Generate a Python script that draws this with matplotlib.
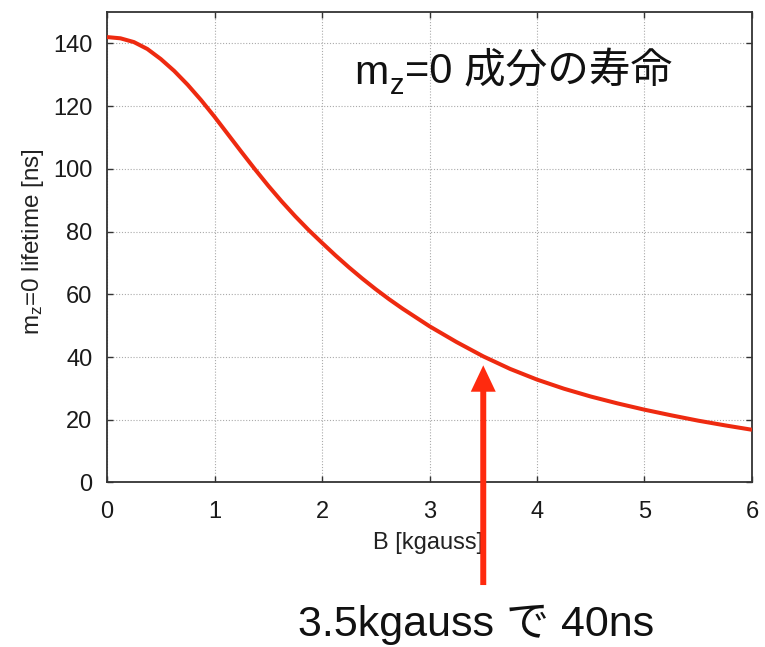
import matplotlib
matplotlib.use("Agg")
import matplotlib.pyplot as plt

plt.rcParams['font.family'] = ['Liberation Sans', 'Noto Sans CJK JP', 'DejaVu Sans']
plt.rcParams['mathtext.default'] = 'regular'

# data
field_kgauss = [0, 0.125, 0.25, 0.375, 0.5, 0.625, 0.75, 0.875,
                1.0, 1.125, 1.25, 1.375, 1.5, 1.625, 1.75, 1.875,
                2.0, 2.125, 2.25, 2.375, 2.5, 2.625, 2.75, 2.875,
                3.0, 3.25, 3.5, 3.75, 4.0, 4.25, 4.5, 4.75,
                5.0, 5.25, 5.5, 5.75, 6.0]
lifetime_ns = [142, 141.6, 140.4, 138.2, 135.0, 131.2, 126.8, 121.9,
               116.6, 111.0, 105.4, 99.9, 94.6, 89.6, 84.9, 80.5,
               76.4, 72.4, 68.6, 65.0, 61.6, 58.4, 55.4, 52.6,
               49.8, 44.8, 40.2, 36.2, 32.8, 29.9, 27.4, 25.2,
               23.2, 21.4, 19.7, 18.2, 16.8]
x_ticks = [0, 1, 2, 3, 4, 5, 6]
y_ticks = [0, 20, 40, 60, 80, 100, 120, 140]
annot_point = (3.5, 40)
annot_text = "3.5kgauss で 40ns"
title_main = "m"
title_sub = "z"
title_rest = "=0 成分の寿命"

curve_color = '#ee2a10'
arrow_color = '#ff2a0e'

fig = plt.figure(figsize=(7.65, 6.47), dpi=100)
ax = fig.add_axes([0.1399, 0.2543, 0.8431, 0.7272])

ax.plot(field_kgauss, lifetime_ns, color=curve_color, lw=2.9,
        solid_capstyle='butt', solid_joinstyle='round', zorder=3)

ax.set_xlim(0, 6)
ax.set_ylim(0, 150)
ax.set_xticks(x_ticks)
ax.set_yticks(y_ticks)
ax.tick_params(direction='in', length=4.3, width=1.0, color='#333333',
               top=True, right=True, labelsize=17, labelcolor='#1a1a1a')
ax.tick_params(axis='x', pad=13)
ax.tick_params(axis='y', pad=10.5)
for s in ax.spines.values():
    s.set_color('#333333')
    s.set_linewidth(1.3)
ax.grid(True, color='#aaaaaa', lw=0.8, linestyle=(0, (1, 1.6)))
ax.set_axisbelow(True)

ax.set_xlabel("B [kgauss]", fontsize=17, color='#222222')
ax.xaxis.set_label_coords(0.498, -0.106)
ax.set_ylabel(r"m$_\mathregular{z}$=0 lifetime [ns]", fontsize=17.5, color='#222222')
ax.yaxis.set_label_coords(-0.094, 0.513)

# title inside plot, built from pieces
t1 = ax.text(0.384, 0.846, title_main, transform=ax.transAxes, fontsize=29.5,
             va='baseline', ha='left', color='#111111')
t2 = ax.annotate(title_sub, xy=(1, 0), xycoords=t1, xytext=(0.5, -5.5),
                 textcoords='offset points', fontsize=21, va='bottom', ha='left',
                 color='#111111')
t3 = ax.annotate(title_rest, xy=(1, 0), xycoords=(t2, t1), xytext=(0.5, 0),
                 textcoords='offset points', fontsize=30, va='bottom', ha='left',
                 color='#111111')

# arrow pointing at the 3.5 kgauss point
ax.annotate("", xy=annot_point, xycoords='data',
            xytext=(annot_point[0], -0.218), textcoords=ax.get_xaxis_transform(),
            annotation_clip=False,
            arrowprops=dict(arrowstyle='simple,head_length=19,head_width=18,tail_width=4.3',
                            mutation_scale=1, color=arrow_color, shrinkA=0, shrinkB=6,
                            lw=0))

fig.text(0.622, 0.017, annot_text, fontsize=31, ha='center', va='baseline', color='#111111')

fig.savefig("out.png", dpi=100, facecolor='white')
